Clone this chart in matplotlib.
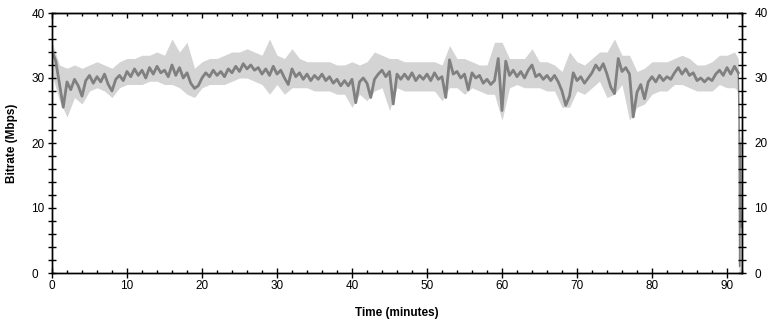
import numpy as np
import matplotlib
matplotlib.use('Agg')
import matplotlib.pyplot as plt
from matplotlib.ticker import MultipleLocator

plt.rcParams['font.family'] = ['Liberation Sans', 'DejaVu Sans']

# 평균 비트레이트 (0.5분 간격, Mbps)
rate = [
    34.2, 32.6, 29.0, 25.5, 29.4, 28.2, 29.8, 28.8, 27.2, 29.6,
    30.4, 29.2, 30.2, 29.4, 30.6, 29.0, 28.0, 29.8, 30.4, 29.6,
    31.0, 30.2, 31.4, 30.4, 31.2, 30.0, 31.6, 30.6, 31.8, 30.8,
    31.2, 30.2, 32.0, 30.4, 31.6, 30.0, 30.8, 29.2, 28.4, 28.8,
    30.0, 30.8, 30.2, 31.2, 30.4, 31.0, 30.2, 31.4, 30.8, 31.8,
    31.0, 32.2, 31.4, 32.0, 31.2, 31.6, 30.6, 31.4, 30.4, 31.8,
    30.6, 31.2, 30.0, 29.0, 31.4, 30.2, 30.8, 29.8, 30.6, 29.6,
    30.4, 29.8, 30.6, 29.6, 30.2, 29.2, 29.8, 28.8, 29.6, 28.8,
    29.8, 26.2, 29.4, 30.0, 29.2, 27.0, 29.8, 30.6, 31.2, 30.2,
    31.0, 26.0, 30.6, 29.8, 30.6, 29.8, 30.8, 29.6, 30.4, 29.8,
    30.6, 29.6, 30.8, 29.8, 30.2, 27.0, 32.8, 30.6, 31.0, 30.0,
    30.6, 28.2, 30.8, 30.0, 30.4, 29.2, 29.8, 29.0, 29.6, 33.0,
    25.0, 32.6, 30.4, 31.2, 30.2, 31.0, 30.0, 31.2, 32.0, 30.2,
    30.6, 29.8, 30.4, 29.6, 30.4, 29.4, 28.0, 25.8, 27.2, 30.8,
    29.6, 30.2, 29.2, 30.0, 30.8, 32.0, 31.2, 32.2, 30.6, 28.6,
    27.6, 33.0, 31.0, 31.6, 30.6, 24.0, 27.8, 29.0, 26.8, 29.4,
    30.2, 29.4, 30.4, 29.6, 30.2, 29.8, 30.8, 31.6, 30.6, 31.4,
    30.4, 30.8, 29.6, 30.0, 29.4, 30.0, 29.6, 30.6, 31.2, 30.4,
    31.6, 30.6, 31.8, 30.8,
]
t_rate = np.arange(len(rate)) * 0.5

# 최대/최소 범위 (1분 간격)
light_hi = [
    35.5, 32.0, 31.5, 32.0, 31.5, 32.0, 32.5, 32.0, 31.5, 32.5,
    33.0, 33.0, 33.5, 33.5, 34.0, 33.5, 36.0, 34.0, 35.5, 31.5,
    32.5, 33.0, 33.0, 33.5, 34.0, 34.0, 34.5, 34.0, 33.5, 36.0,
    33.5, 33.0, 34.5, 33.0, 32.5, 32.5, 32.5, 32.5, 32.0, 32.0,
    32.5, 32.0, 32.5, 34.0, 33.5, 33.0, 33.0, 32.5, 32.5, 32.5,
    32.5, 32.5, 32.0, 35.0, 33.0, 33.0, 32.5, 32.0, 32.0, 35.5,
    35.5, 33.0, 33.0, 33.0, 34.5, 32.5, 32.5, 32.0, 31.0, 34.0,
    32.5, 32.0, 33.0, 34.0, 34.0, 36.0, 33.5, 33.5, 31.0, 31.5,
    32.5, 32.5, 32.5, 33.0, 33.5, 33.0, 32.0, 32.0, 32.5, 33.5,
    33.5, 34.0,
]
light_lo = [
    30.5, 26.5, 24.0, 27.0, 26.0, 28.0, 28.5, 28.0, 27.0, 28.5,
    29.0, 29.0, 29.0, 29.5, 29.5, 29.0, 29.0, 28.5, 27.5, 27.0,
    28.5, 29.0, 29.0, 29.0, 29.5, 30.0, 30.0, 29.5, 29.0, 27.5,
    29.0, 27.5, 28.5, 28.5, 28.5, 28.0, 28.0, 28.0, 27.5, 27.5,
    25.5, 27.5, 26.5, 28.0, 28.5, 25.0, 28.5, 28.0, 28.0, 28.0,
    28.0, 28.0, 26.5, 28.5, 28.5, 27.5, 28.5, 28.0, 27.5, 27.5,
    23.5, 28.5, 29.0, 28.5, 28.5, 28.5, 28.0, 28.0, 25.5, 25.5,
    28.0, 27.5, 28.5, 29.5, 27.0, 27.5, 29.0, 23.5, 25.5, 26.0,
    27.5, 28.0, 28.0, 29.0, 29.0, 28.5, 28.0, 28.0, 28.0, 29.0,
    28.5, 28.5,
]
t_light = np.arange(len(light_hi)) * 1.0

# 마지막 구간 (녹화 종료 직전 급락)
tail_t = [91.5, 91.6, 91.68, 91.76, 91.84, 91.92]
tail_rate = [30.8, 24.0, 1.0, 20.0, 10.0, 7.0]
tail_light_t = [91.0, 91.5, 91.6, 91.72, 92.0]
tail_light_hi = [34.0, 33.0, 26.0, 21.0, 20.0]
tail_light_lo = [28.5, 28.0, 0.0, 0.0, 0.0]

fig = plt.figure(figsize=(7.72, 3.23), dpi=100)
ax = fig.add_axes([52 / 772, 1 - 273 / 323, 690 / 772, 260 / 323])

ax.fill_between(t_light, light_lo, light_hi, color='#d4d4d4', lw=0)
ax.fill_between(tail_light_t, tail_light_lo, tail_light_hi, color='#d4d4d4', lw=0)
ax.plot(t_rate, rate, color='#808080', lw=2.0)
ax.plot(tail_t, tail_rate, color='#808080', lw=1.0)

ax.set_xlim(0, 92)
ax.set_ylim(0, 40)

ax.xaxis.set_major_locator(MultipleLocator(10))
ax.xaxis.set_minor_locator(MultipleLocator(2))
ax.yaxis.set_major_locator(MultipleLocator(10))
ax.yaxis.set_minor_locator(MultipleLocator(2))

ax.tick_params(axis='x', which='major', direction='inout', length=6.5, width=1,
               labelsize=8.5, pad=2)
ax.tick_params(axis='x', which='minor', direction='in', length=2.5, width=1)
ax.tick_params(axis='y', which='both', direction='inout', length=5.8, width=1,
               labelsize=8.5, pad=12)
for tick in ax.yaxis.get_major_ticks():
    tick.label1.set_horizontalalignment('left')

# 오른쪽 축
ax2 = ax.twinx()
ax2.set_ylim(0, 40)
ax2.yaxis.set_major_locator(MultipleLocator(10))
ax2.yaxis.set_minor_locator(MultipleLocator(2))
ax2.tick_params(axis='y', which='both', direction='inout', length=5.8, width=1,
                labelsize=8.5, pad=6)

# 위쪽 축 (눈금만)
top = ax.secondary_xaxis('top')
top.xaxis.set_major_locator(MultipleLocator(10))
top.xaxis.set_minor_locator(MultipleLocator(2))
top.tick_params(axis='x', which='major', direction='in', length=3.5, width=1, labeltop=False)
top.tick_params(axis='x', which='minor', direction='in', length=2.5, width=1)

for a in (ax, ax2):
    for s in a.spines.values():
        s.set_linewidth(1)

fig.text(12 / 772, 1 - 143 / 323, 'Bitrate (Mbps)', rotation=90, ha='center', va='center',
         fontsize=8.5, fontweight='bold')
fig.text(397 / 772, 1 - 313 / 323, 'Time (minutes)', ha='center', va='center',
         fontsize=8.5, fontweight='bold')

fig.savefig('out.png', dpi=100)
